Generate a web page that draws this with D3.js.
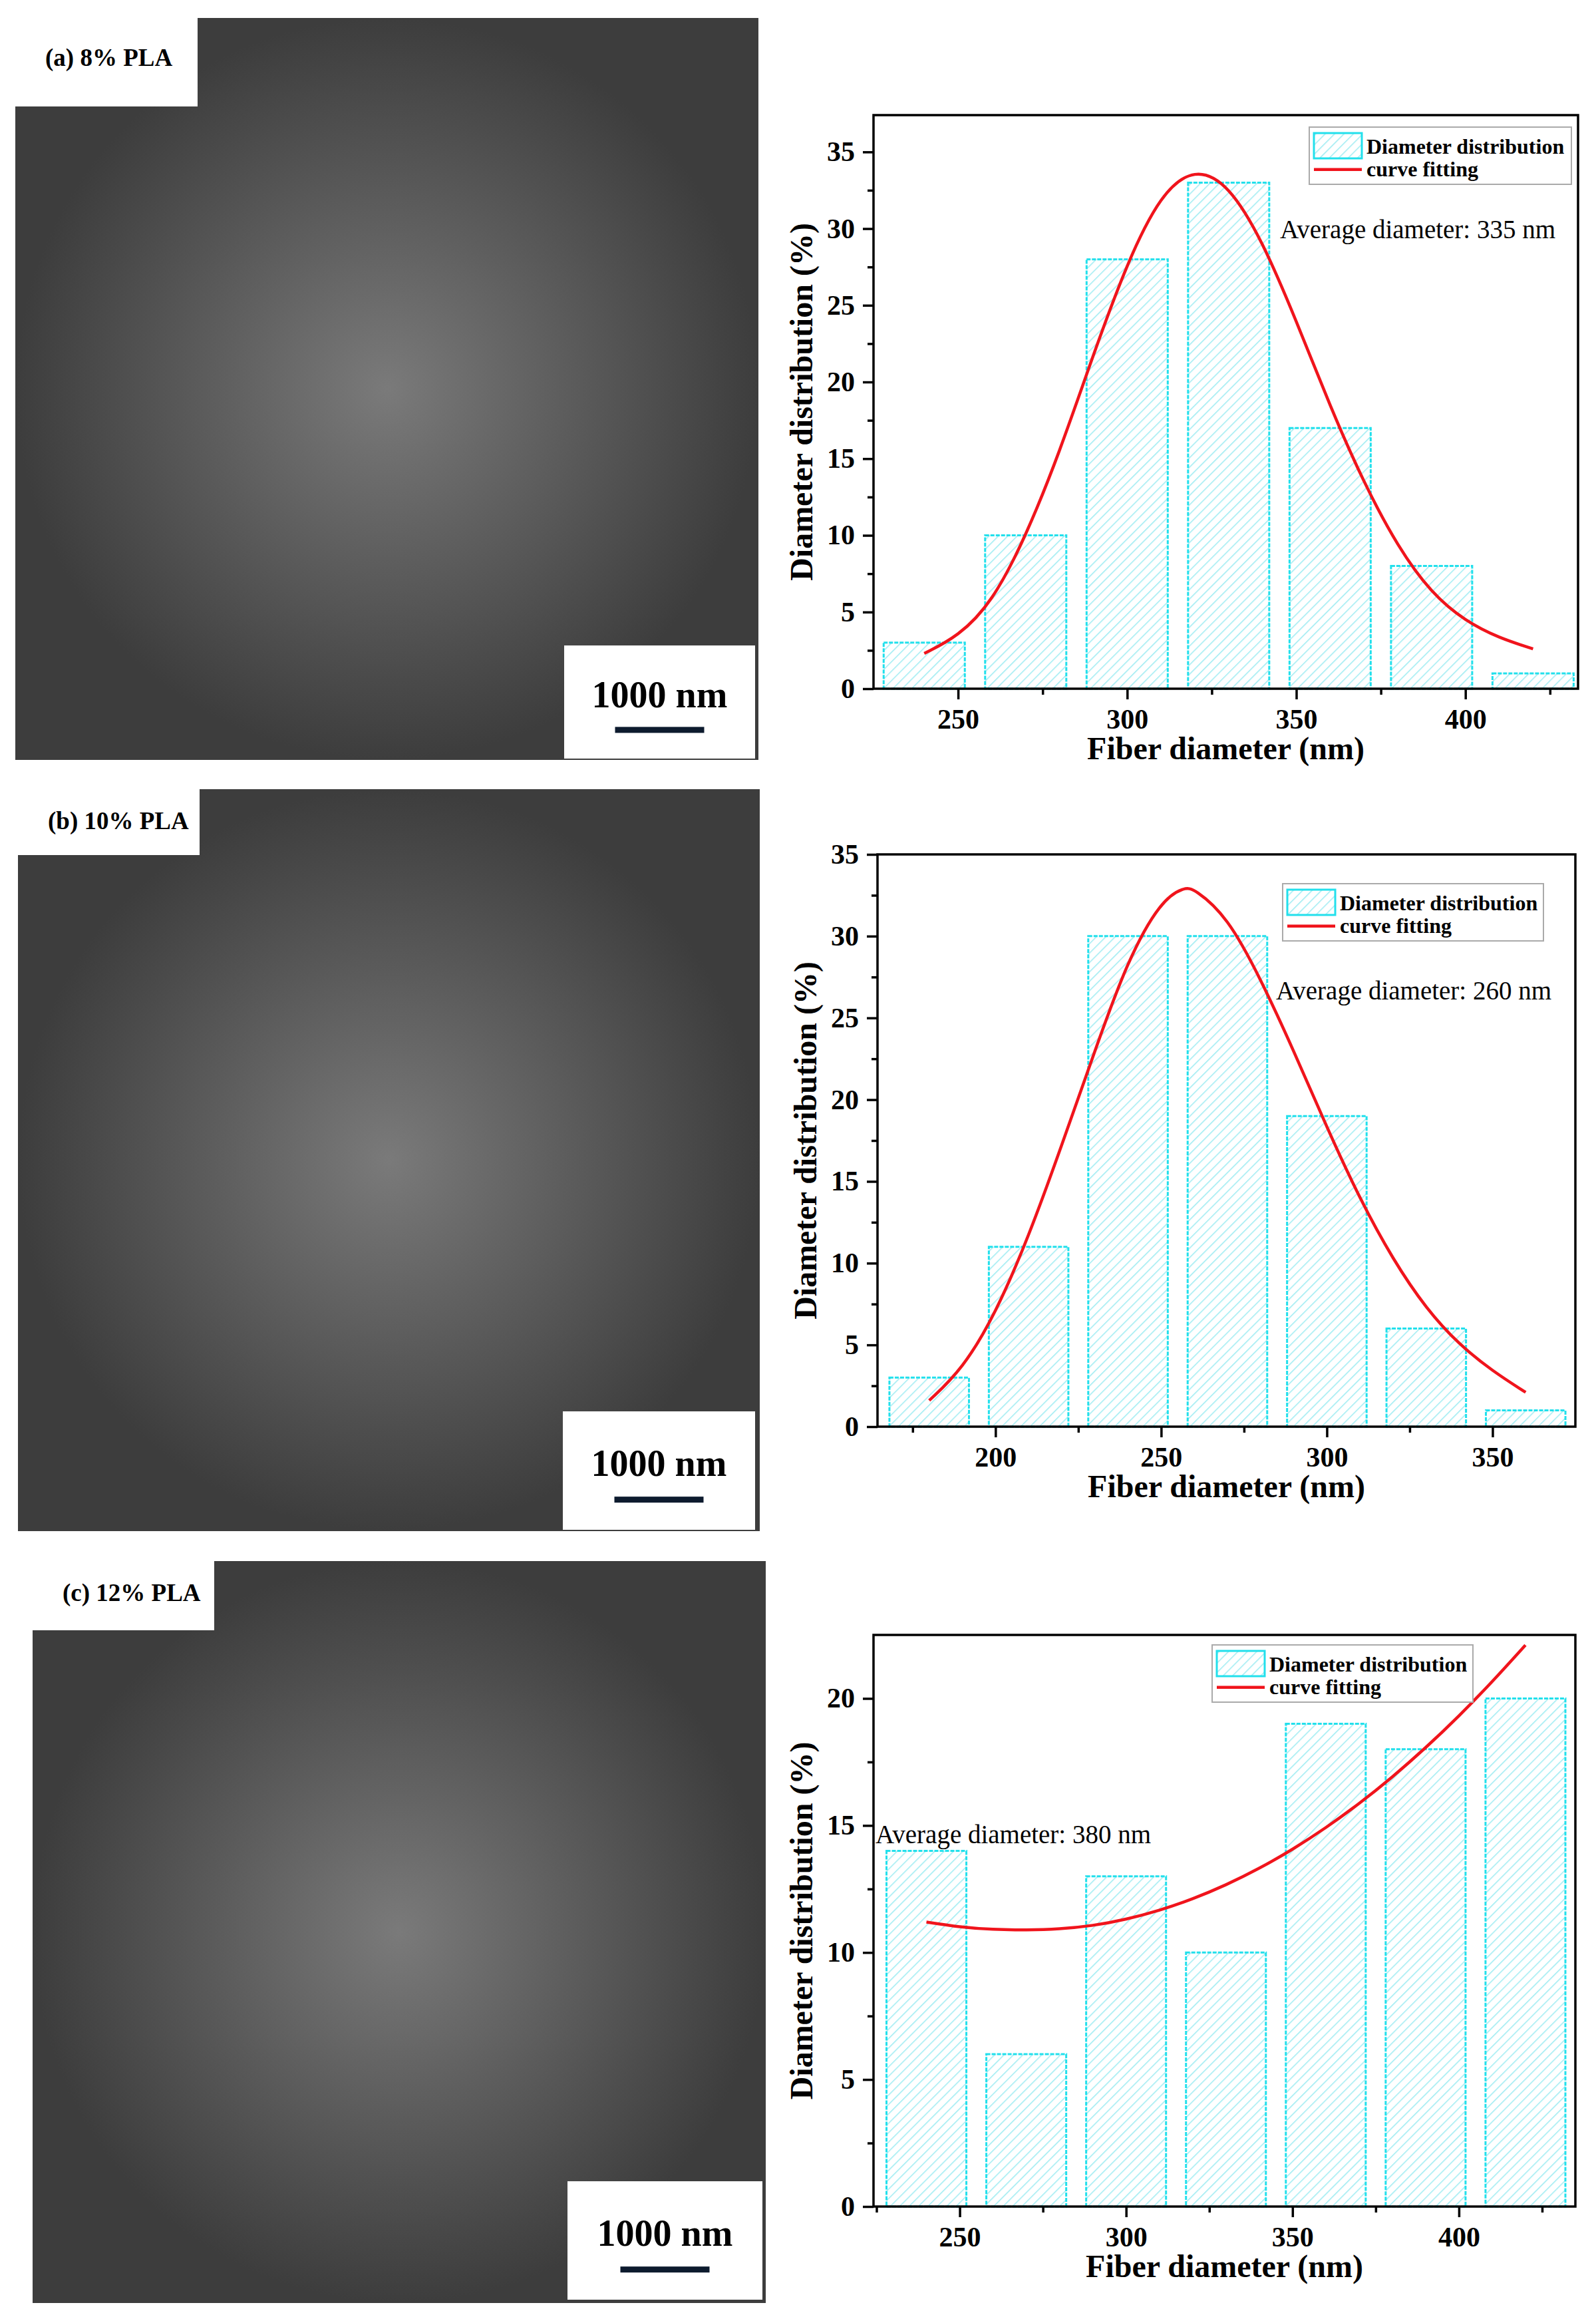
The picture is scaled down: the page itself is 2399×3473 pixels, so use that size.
<!DOCTYPE html>
<html><head><meta charset="utf-8">
<script src="https://cdn.jsdelivr.net/npm/d3@7"></script>
<style>body{margin:0;background:#fff}</style>
</head><body>
<script>
// ---- data ----
const barX1 = [240,270,300,330,360,390,420];
const barY1 = [3,10,28,33,17,8,1];
const fitX1 = [240,250,260,270,280,290,300,310,320,330,340,350,360,370,380,390,400,410,420];
const fitY1 = [2.3,3.4,5.6,9.9,15.4,21.8,27.8,32.3,34,32.9,29.2,24,18.4,13.4,9.25,6.2,4.4,3.3,2.6];
const barX2 = [180,210,240,270,300,330,360];
const barY2 = [3,11,30,30,19,6,1];
const fitX2 = [180,190,200,210,220,230,240,250,257,260,270,280,290,300,310,320,330,340,350,360];
const fitY2 = [1.6,3.5,6.9,11.6,17.2,23,28.6,32.2,33,32.9,31.2,27.4,23,18.3,13.9,10.2,7.2,5.0,3.4,2.1];
const barX3 = [240,270,300,330,360,390,420];
const barY3 = [14,6,13,10,19,18,20];
const fitX3 = [240,250,260,270,280,290,300,310,320,330,340,350,360,370,380,390,400,410,420];
const fitY3 = [11.2,11.0,10.9,10.88,10.92,11.05,11.3,11.65,12.1,12.65,13.3,14.05,14.9,15.85,16.9,18.05,19.3,20.65,22.1];
const ticks1 = [250,300,350,400], yt1=[0,5,10,15,20,25,30,35];
const ticks2 = [200,250,300,350], yt2=[0,5,10,15,20,25,30,35];
const ticks3 = [250,300,350,400], yt3=[0,5,10,15,20];
const labels = ["(a) 8% PLA","(b) 10% PLA","(c) 12% PLA"];
const avgTexts = ["Average diameter: 335 nm","Average diameter: 260 nm","Average diameter: 380 nm"];

const W=2399,H=3473;
const svg=d3.select("body").append("svg").attr("width",W).attr("height",H).style("font-family","'Liberation Serif','Times New Roman',serif");
const defs=svg.append("defs");
const pat=defs.append("pattern").attr("id","hatch").attr("patternUnits","userSpaceOnUse").attr("width",10).attr("height",10).attr("patternTransform","rotate(45)");
pat.append("rect").attr("width",10).attr("height",10).attr("fill","#fff");
pat.append("line").attr("x1",0).attr("y1",0).attr("x2",0).attr("y2",10).attr("stroke","#9eecf2").attr("stroke-width",3);

const sem=[{x:23,y:27,w:1117,h:1115,lw:297,lh:138,sb:[848,970,287,170]},
           {x:27,y:1186,w:1115,h:1115,lw:300,lh:104,sb:[846,2121,289,178]},
           {x:49,y:2346,w:1102,h:1115,lw:322,lh:109,sb:[853,3278,293,178]}];
const g0=defs.append("radialGradient").attr("id","semg");
g0.append("stop").attr("offset","0%").attr("stop-color","#7a7a7a");
g0.append("stop").attr("offset","100%").attr("stop-color","#3d3d3d");
sem.forEach((s,i)=>{
  svg.append("rect").attr("x",s.x).attr("y",s.y).attr("width",s.w).attr("height",s.h).attr("fill","url(#semg)");
  svg.append("rect").attr("x",0).attr("y",s.y-27<0?0:s.y-5).attr("width",s.lw).attr("height",s.lh).attr("fill","#fff");
  svg.append("text").attr("x",s.x+45).attr("y",s.y+(i==0?72:60)).attr("font-size",37).attr("font-weight","bold").text(labels[i]);
  const [bx,by,bw,bh]=s.sb;
  svg.append("rect").attr("x",bx).attr("y",by).attr("width",bw).attr("height",bh).attr("fill","#fff");
  svg.append("text").attr("x",bx+bw/2).attr("y",by+bh*0.5+8).attr("text-anchor","middle").attr("font-size",56).attr("font-weight","bold").text("1000 nm");
  svg.append("rect").attr("x",bx+bw/2-67).attr("y",by+bh*0.72).attr("width",134).attr("height",9).attr("fill","#0d1b2e");
});

function chart(o){
  const x=d3.scaleLinear().domain(o.xd).range([o.l,o.r]);
  const y=d3.scaleLinear().domain(o.yd).range([o.b,o.t]);
  const g=svg.append("g");
  g.selectAll("rect.bar").data(o.bx.map((v,i)=>[v,o.by[i]])).join("rect")
    .attr("x",d=>x(d[0]-12)).attr("width",x(24)-x(0)).attr("y",d=>y(d[1])).attr("height",d=>y(0)-y(d[1]))
    .attr("fill","url(#hatch)").attr("stroke","#22e0ec").attr("stroke-width",3).attr("stroke-dasharray","6,2");
  g.append("path").datum(o.fx.map((v,i)=>[v,o.fy[i]])).attr("d",d3.line().x(d=>x(d[0])).y(d=>y(d[1])).curve(d3.curveBasis))
    .attr("fill","none").attr("stroke","#f0141c").attr("stroke-width",4.5);
  g.append("rect").attr("x",o.l).attr("y",o.t).attr("width",o.r-o.l).attr("height",o.b-o.t).attr("fill","none").attr("stroke","#000").attr("stroke-width",3.5);
  const minorX=d3.range(o.xt[0]-25,o.xd[1],25).filter(v=>v>o.xd[0]);
  g.append("g").attr("transform",`translate(0,${o.b})`).call(d3.axisBottom(x).tickValues(o.xt).tickSize(16).tickPadding(14).tickFormat(d3.format("d")));
  g.append("g").attr("transform",`translate(0,${o.b})`).call(d3.axisBottom(x).tickValues(minorX.filter(v=>!o.xt.includes(v))).tickSize(9).tickFormat(""));
  g.append("g").attr("transform",`translate(${o.l},0)`).call(d3.axisLeft(y).tickValues(o.yt).tickSize(16).tickPadding(12).tickFormat(d3.format("d")));
  const minorY=d3.range(2.5,o.yd[1],5);
  g.append("g").attr("transform",`translate(${o.l},0)`).call(d3.axisLeft(y).tickValues(minorY).tickSize(9).tickFormat(""));
  g.selectAll(".domain").remove();
  g.selectAll(".tick line").attr("stroke-width",3.5);
  g.selectAll(".tick text").attr("font-size",42).attr("font-weight","bold").attr("font-family","'Liberation Serif',serif").attr("fill","#000");
  g.append("text").attr("x",(o.l+o.r)/2).attr("y",o.b+106).attr("text-anchor","middle").attr("font-size",48).attr("font-weight","bold").text("Fiber diameter (nm)");
  g.append("text").attr("transform",`translate(${o.l-92},${(o.t+o.b)/2}) rotate(-90)`).attr("text-anchor","middle").attr("font-size",48).attr("font-weight","bold").text("Diameter distribution (%)");
  const [lx,ly,lw,lh]=o.leg;
  g.append("rect").attr("x",lx).attr("y",ly).attr("width",lw).attr("height",lh).attr("fill","#fff").attr("stroke","#aaa").attr("stroke-width",2);
  g.append("rect").attr("x",lx+7).attr("y",ly+9).attr("width",72).attr("height",38).attr("fill","url(#hatch)").attr("stroke","#22e0ec").attr("stroke-width",3);
  g.append("line").attr("x1",lx+7).attr("x2",lx+79).attr("y1",ly+lh*0.74).attr("y2",ly+lh*0.74).attr("stroke","#f0141c").attr("stroke-width",4.5);
  g.append("text").attr("x",lx+86).attr("y",ly+40).attr("font-size",32).attr("font-weight","bold").text("Diameter distribution");
  g.append("text").attr("x",lx+86).attr("y",ly+lh*0.74+10).attr("font-size",32).attr("font-weight","bold").text("curve fitting");
  g.append("text").attr("x",o.avg[0]).attr("y",o.avg[1]).attr("font-size",39).text(o.at);
}
chart({xd:[225,433.3],yd:[0,37.4],l:1313,r:2372,t:173,b:1035,bx:barX1,by:barY1,fx:fitX1,fy:fitY1,xt:ticks1,yt:yt1,leg:[1968,191,394,86],avg:[1924,358],at:avgTexts[0]});
chart({xd:[164.4,375],yd:[0,35],l:1319,r:2368,t:1284,b:2144,bx:barX2,by:barY2,fx:fitX2,fy:fitY2,xt:ticks2,yt:yt2,leg:[1928,1328,392,86],avg:[1918,1502],at:avgTexts[1]});
chart({xd:[224.1,435],yd:[0,22.5],l:1313,r:2368,t:2457,b:3316,bx:barX3,by:barY3,fx:fitX3,fy:fitY3,xt:ticks3,yt:yt3,leg:[1822,2472,392,86],avg:[1316,2770],at:avgTexts[2]});
</script>
</body></html>
